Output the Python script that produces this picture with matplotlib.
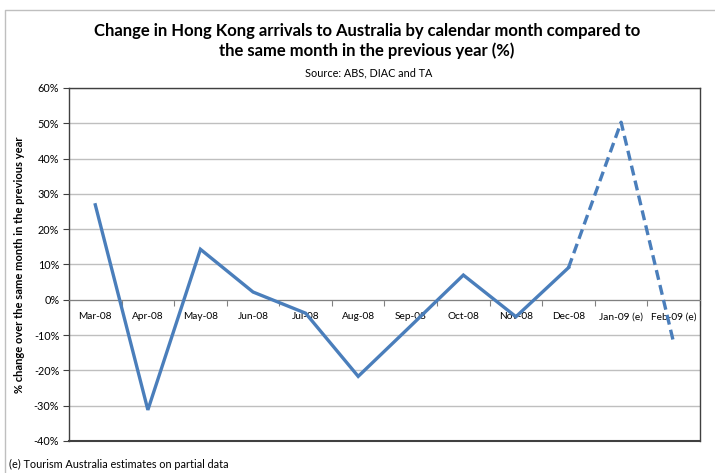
import numpy as np
import matplotlib.pyplot as plt
from matplotlib.ticker import FixedLocator, FuncFormatter

# data
months = ["Mar-08", "Apr-08", "May-08", "Jun-08", "Jul-08", "Aug-08",
          "Sep-08", "Oct-08", "Nov-08", "Dec-08", "Jan-09 (e)", "Feb-09 (e)"]
pct_change = [26.9, -31.2, 14.3, 2.2, -3.8, -21.7, -7.4, 7.0, -4.8, 9.1, 50.3, -12.2]
n_actual = 10  # Mar-08..Dec-08 are actuals, the rest are estimates

plt.rcParams['font.family'] = ['Lato', 'DejaVu Sans']

LINE_BLUE = '#4A7EBB'
DARK = '#404040'
GRID = '#BFBFBF'

fig = plt.figure(figsize=(7.15, 4.73), dpi=100)
ax = fig.add_axes([0.0965, 0.0677, 0.8825, 0.7463])

x = np.arange(len(months))
ax.plot(x[:n_actual], pct_change[:n_actual], color=LINE_BLUE, lw=2.4,
        solid_joinstyle='miter', zorder=3)
ax.plot(x[n_actual - 1:], pct_change[n_actual - 1:], color=LINE_BLUE, lw=2.4,
        linestyle=(0, (3, 1.6)), zorder=3)

ax.set_xlim(-0.5, len(months) - 0.5)
ax.set_ylim(-40, 60)
ax.set_yticks(np.arange(-40, 61, 10))
ax.yaxis.set_major_formatter(FuncFormatter(lambda v, p: f"{v:.0f}%"))
ax.yaxis.grid(True, color=GRID, lw=1)
ax.set_axisbelow(True)

# category axis crosses at 0%
ax.spines['bottom'].set_position(('data', 0))
ax.spines['bottom'].set_color('#808080')
ax.xaxis.set_major_locator(FixedLocator(np.arange(-0.5, len(months), 1)))
ax.xaxis.set_major_formatter(FuncFormatter(lambda v, p: ""))
ax.xaxis.set_minor_locator(FixedLocator(x))
ax.set_xticklabels(months, minor=True)
ax.tick_params(axis='x', which='major', direction='out', length=4, color='#808080')
ax.tick_params(axis='x', which='minor', length=0, pad=9, labelsize=7.3)
ax.tick_params(axis='y', direction='out', length=4, color=DARK, labelsize=7.8, pad=3)

for s in ['left', 'top', 'right']:
    ax.spines[s].set_color(DARK)
    ax.spines[s].set_linewidth(1)
ax.axhline(-40, color=DARK, lw=1.5, clip_on=False, zorder=4)

ax.set_ylabel("% change over the same month in the previous year",
              fontsize=8, fontweight='bold', labelpad=6)

fig.text(0.513, 0.935, "Change in Hong Kong arrivals to Australia by calendar month compared to",
         ha='center', va='center', fontsize=12, fontweight='bold')
fig.text(0.513, 0.893, "the same month in the previous year (%)",
         ha='center', va='center', fontsize=12, fontweight='bold')
fig.text(0.516, 0.846, "Source: ABS, DIAC and TA", ha='center', va='center', fontsize=7.8)
fig.text(0.013, 0.019, "(e) Tourism Australia estimates on partial data",
         ha='left', va='center', fontsize=7.8)

# outer chart-area border (top and left edges visible)
fig.add_artist(plt.Line2D([0.007, 0.007, 1.0], [0.0, 0.979, 0.979],
                          transform=fig.transFigure, color='#BFBFBF', lw=1))

fig.savefig('out.png', dpi=100)
